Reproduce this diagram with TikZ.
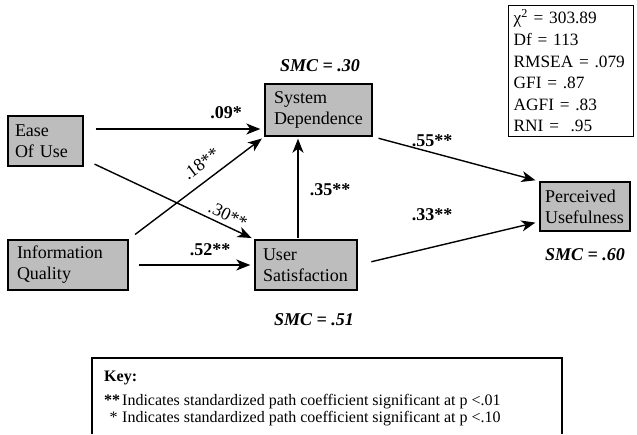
\documentclass[tikz,border=0pt]{standalone}
\usepackage{fontspec}
\setmainfont{Liberation Serif}
\usetikzlibrary{arrows.meta,calc}
\newcommand{\boxfont}{\fontsize{18}{21}\selectfont}
\newcommand{\statfont}{\fontsize{17.3}{21.6}\selectfont}
\newcommand{\keyfont}{\fontsize{16}{17}\selectfont}
\begin{document}
\begin{tikzpicture}[x=1pt,y=-1pt,
  construct/.style={draw, line width=1.4pt, fill=black!26, font=\boxfont, align=left, inner ysep=0pt},
  path arrow/.style={line width=1.4pt, -{Stealth[length=14pt,width=11pt,inset=4pt]}},
  coef/.style={font=\boxfont\bfseries, inner sep=1pt},
  coefplain/.style={font=\boxfont, inner sep=1pt},
  smc/.style={font=\boxfont\bfseries\itshape, inner sep=1pt},
  frame/.style={line width=1.4pt},
]
\path[use as bounding box] (0,0) rectangle (637,434);

% constructs
\node[construct, text width=61pt, inner xsep=7pt, minimum height=50pt] (ease) at (45.5,141) {Ease\\Of Use};
\node[construct, text width=89pt, inner xsep=9pt, minimum height=52pt] (sysdep) at (318.5,110) {System\\Dependence};
\node[construct, text width=102pt, inner xsep=9pt, minimum height=50pt] (info) at (68,265) {Information\\Quality};
\node[construct, text width=86pt, inner xsep=8pt, minimum height=50pt] (user) at (306,265) {User\\Satisfaction};
\node[construct, text width=80pt, inner xsep=5pt, minimum height=49pt] (perc) at (585,206.5) {Perceived\\Usefulness};

% squared multiple correlations
\node[smc] (smc30) at (320,66) {SMC = .30};
\node[smc] (smc51) at (314,320) {SMC = .51};
\node[smc] (smc60) at (585,255) {SMC = .60};

% anchor points of the paths
\coordinate (easeout) at ($(ease.east)+(0,-12)$);
\coordinate (easelow) at ($(ease.east)+(0,18)$);
\coordinate (userup) at ($(user.north)+(-8,0)$);
\coordinate (percin) at ($(perc.south west)+(0,-10)$);

% structural paths
\draw[path arrow, shorten <=12pt, shorten >=4pt] (easeout) -- (easeout -| sysdep.west);
\draw[path arrow, shorten <=12pt, shorten >=3pt] (easelow) -- (user.north west);
\draw[path arrow, shorten <=8pt, shorten >=3pt] (info.north east) -- (sysdep.south west);
\draw[path arrow, shorten <=10pt, shorten >=4pt] (info.east) -- (user.west);
\draw[path arrow, shorten <=1pt, shorten >=2pt] (userup) -- (userup |- sysdep.south);
\draw[path arrow, shorten <=6pt, shorten >=4pt] (sysdep.south east) -- (perc.north west);
\draw[path arrow, shorten <=14pt, shorten >=4pt] (user.east) -- (percin);

% path coefficients
\node[coef] (c09) at (226,113) {.09*};
\node[coefplain, rotate=37] (c18) at (201,164) {.18**};
\node[coefplain, rotate=-25.5] (c30) at (228,215) {.30**};
\node[coef] (c52) at (210,250) {.52**};
\node[coef] (c35) at (330,190) {.35**};
\node[coef] (c55) at (432,141) {.55**};
\node[coef] (c33) at (432,215) {.33**};

% fit statistics
\node[draw, line width=1.4pt, anchor=north west, align=left, font=\statfont,
      inner xsep=5pt, inner ysep=4pt, text width=115pt] (fit) at (508,5)
  {χ\textsuperscript{2} = 303.89\\Df = 113\\RMSEA = .079\\GFI = .87\\AGFI = .83\\RNI =\ \ .95};

% key
\draw[frame] (92,434) |- (562,358) -- (562,434);
\node[anchor=north west, align=left, font=\keyfont, inner sep=0pt] (key) at (104,371)
  {\textbf{Key:}\\[7pt]
   \makebox[18pt][l]{\textbf{**}}Indicates standardized path coefficient significant at p <.01\\
   \makebox[18pt][l]{\,\,*}Indicates standardized path coefficient significant at p <.10};
\end{tikzpicture}
\end{document}
